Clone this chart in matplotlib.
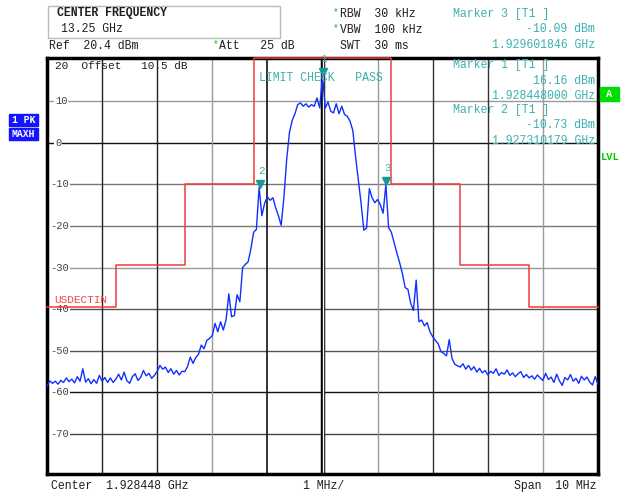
import numpy as np
import matplotlib
matplotlib.use('Agg')
import matplotlib.pyplot as plt
from matplotlib.patches import Rectangle
from matplotlib.transforms import offset_copy, blended_transform_factory

plt.rcParams['font.family'] = ['Liberation Mono', 'DejaVu Sans Mono']

W, H = 622, 495

# Analyzer settings
center_ghz = 1.928448
span_mhz = 10.0
ref_level = 20.4
bottom_level = -79.6

# Trace 1 (PK / MAXH), 201 sweep points across the span, dBm
trace_dbm = [
    -58.6, -57.2, -57.8, -57.3, -58.0, -57.1, -57.6, -56.5, -57.4, -56.8,
    -57.7, -56.2, -57.3, -54.3, -57.5, -56.7, -57.9, -56.9, -57.8, -55.9,
    -57.3, -56.4, -57.6, -56.5, -57.6, -56.8, -55.6, -57.0, -55.1, -57.2,
    -57.8, -56.2, -55.5, -57.1, -56.4, -54.7, -56.0, -55.4, -56.6, -55.9,
    -54.9, -53.5, -54.4, -53.9, -55.2, -54.3, -55.6, -54.7, -55.8, -54.9,
    -55.0, -53.8, -51.5, -53.0, -51.6, -50.8, -48.6, -49.5, -47.5, -47.0,
    -46.3, -43.4, -45.4, -43.0, -45.0, -42.5, -36.3, -41.8, -41.5, -36.5,
    -38.2, -30.0, -29.2, -28.6, -25.5, -21.5, -20.8, -10.73, -17.5, -14.5,
    -13.0, -13.8, -13.2, -15.6, -17.5, -19.8, -13.0, -4.0, 2.5, 5.4,
    7.0, 9.2, 9.6, 8.8, 9.4, 8.6, 9.2, 8.8, 10.8, 8.4,
    16.16, 8.4, 9.8, 7.6, 7.2, 9.4, 7.0, 8.8, 6.8, 6.4,
    5.2, 3.0, -3.3, -9.0, -14.5, -21.0, -20.5, -11.0, -13.2, -14.4,
    -13.6, -14.9, -16.9, -10.09, -20.4, -21.5, -24.0, -26.5, -28.8, -31.4,
    -34.8, -35.2, -38.5, -40.3, -33.0, -43.0, -42.6, -44.0, -43.2, -45.4,
    -46.6, -47.5, -48.3, -50.2, -50.6, -51.2, -47.3, -51.8, -53.2, -53.6,
    -53.9, -53.1, -54.4, -53.5, -54.6, -53.8, -55.1, -54.2, -55.3, -54.7,
    -55.8, -54.9, -55.4, -54.3, -55.9, -55.2, -55.6, -54.6, -55.9, -55.3,
    -56.2, -55.5, -55.0, -56.4, -55.7, -56.5, -56.0, -56.8, -55.8, -56.5,
    -57.1, -55.4, -56.9, -56.3, -57.6, -55.6, -57.2, -58.3, -56.4, -57.0,
    -55.7, -57.3, -56.6, -57.8, -56.1, -57.0, -56.3, -57.5, -58.2, -56.2, -58.0,
]
freq_mhz = np.linspace(-span_mhz / 2, span_mhz / 2, len(trace_dbm))

# Limit line USDECTIN
limit_edges_mhz = [-5, -3.75, -2.5, -1.25, 1.25, 2.5, 3.75, 5]
limit_dbm = [-39.5, -29.3, -10, 20.4, -10, -29.3, -39.5]

# Markers
marker_ids = [1, 2, 3]
marker_ghz = [1.928448000, 1.927310179, 1.929601846]
marker_dbm = [16.16, -10.73, -10.09]

ytick_vals = [10, 0, -10, -20, -30, -40, -50, -60, -70]
xgrid_mhz = [-4, -3, -2, -1, 0, 1, 2, 3, 4]
hgrid_colors = ['#9a9a9a', '#111111', '#777777', '#777777', '#9a9a9a',
                '#555555', '#555555', '#111111', '#444444']
vgrid_colors = ['#222222', '#222222', '#9a9a9a', '#111111', '#000000',
                '#9a9a9a', '#333333', '#333333', '#9a9a9a']

TEAL = '#3cb0b0'
GREEN = '#00cc00'
DARK = '#1e1e1e'

fig = plt.figure(figsize=(W / 100, H / 100), dpi=100)
ax = fig.add_axes([47 / W, (H - 474) / H, 551 / W, 416 / H])
ax.set_xlim(-span_mhz / 2, span_mhz / 2)
ax.set_ylim(bottom_level, ref_level)
ax.set_xticks([])
ax.set_yticks([])
for sp in ax.spines.values():
    sp.set_linewidth(2.5)
    sp.set_color('black')

# graticule
for v, c in zip(ytick_vals, hgrid_colors):
    ax.axhline(v, color=c, lw=1.0, zorder=1)
for v, c in zip(xgrid_mhz, vgrid_colors):
    if v == 0:
        ax.axvline(v, color='black', lw=3.2, zorder=1)
        ax.axvline(v, color='white', lw=1.0, zorder=1)
    else:
        ax.axvline(v, color=c, lw=1.2 if c == '#111111' else 1.0, zorder=1)

# y labels inside the graticule
blend = blended_transform_factory(ax.transAxes, ax.transData)
for v in ytick_vals:
    s = str(v)
    xa = (50 - 47) / 551 if s.startswith('-') else (55 - 47) / 551
    ax.text(xa, v, s, transform=blend, ha='left', va='center', fontsize=7.6,
            color='#444444', zorder=2,
            bbox=dict(facecolor='white', edgecolor='none', pad=0.6))

# limit line
ax.step(limit_edges_mhz, limit_dbm + [limit_dbm[-1]], where='post',
        color='#f23a3a', lw=1.1, zorder=3, clip_on=False)

# trace
ax.plot(freq_mhz, trace_dbm, color='#1030ff', lw=1.0, zorder=4)

# markers
mk_x = [(f - center_ghz) * 1000 for f in marker_ghz]
tri = offset_copy(ax.transData, fig=fig, y=4, units='dots')
ax.plot(mk_x, marker_dbm, 'v', color='#149a9a', ms=6, transform=tri,
        zorder=5, clip_on=False)
for m, x, y in zip(marker_ids, mk_x, marker_dbm):
    ax.annotate(str(m), (x, y), xytext=(1, 12), textcoords='offset points',
                ha='center', va='center', fontsize=8, color=TEAL, zorder=5)


def ftext(x, y, s, **kw):
    kw.setdefault('fontsize', 8.3)
    kw.setdefault('color', DARK)
    fig.text(x / W, 1 - y / H, s, va='center', **kw)


# header
fig.patches.append(Rectangle((48 / W, 1 - 38 / H), 232 / W, 32 / H,
                             transform=fig.transFigure, fill=False,
                             edgecolor='#bbbbbb', lw=1))
ftext(57, 13, 'CENTER FREQUENCY', fontweight='bold')
ftext(61, 29, '13.25 GHz')
ftext(49, 46, 'Ref  20.4 dBm')
ftext(213, 44, '*', color=GREEN, fontsize=7)
ftext(219, 46, 'Att   25 dB')
ftext(333, 12, '*', color=GREEN, fontsize=7)
ftext(340, 14, 'RBW  30 kHz')
ftext(333, 28, '*', color=GREEN, fontsize=7)
ftext(340, 30, 'VBW  100 kHz')
ftext(340, 46, 'SWT  30 ms')

# marker readouts (marker 3 first, then 1 and 2 inside the graticule)
rows = [(3, 14), (1, 65), (2, 110)]
for m, y0 in rows:
    k = marker_ids.index(m)
    ftext(453, y0, 'Marker %d [T1 ]' % m, color=TEAL)
    ftext(595, y0 + 15.5, '%.2f dBm' % marker_dbm[k], color=TEAL, ha='right')
    ftext(595, y0 + 31, '%.9f GHz' % marker_ghz[k], color=TEAL, ha='right')

ftext(55, 66, '20  Offset   10.5 dB', fontsize=8)
ftext(259, 78, 'LIMIT CHECK   PASS', color=TEAL)
ftext(54, 300, 'USDECTIN', color='#f04848', fontsize=8)

# side labels
for y0, s in [(114, '1 PK'), (128, 'MAXH')]:
    fig.patches.append(Rectangle((9 / W, 1 - (y0 + 12) / H), 29 / W, 12 / H,
                                 transform=fig.transFigure, color='#1414ff'))
    ftext(23.5, y0 + 6, s, color='white', fontsize=7, fontweight='bold',
          ha='center')
fig.patches.append(Rectangle((600 / W, 1 - 101 / H), 19 / W, 14 / H,
                             transform=fig.transFigure, color='#00dd00'))
ftext(609.5, 94, 'A', color='white', fontsize=7.5, fontweight='bold',
      ha='center')
ftext(601, 157, 'LVL', color=GREEN, fontsize=7.5, fontweight='bold')

# bottom annotation
ftext(51, 486, 'Center  %.6f GHz' % center_ghz)
ftext(303, 486, '%d MHz/' % (span_mhz / 10))
ftext(597, 486, 'Span  %d MHz' % span_mhz, ha='right')

fig.savefig('out.png', dpi=100)
